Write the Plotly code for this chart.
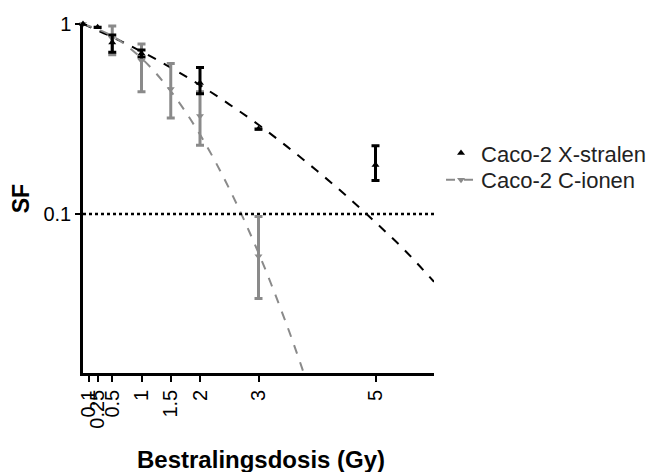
import plotly.graph_objects as go

# ---- data ----
dose_x = [0, 0.25, 0.5, 1, 2, 3, 5]
sf_x = [1.0, 0.96, 0.80, 0.70, 0.49, 0.28, 0.181]
sf_x_hi = [0, 0, 0.075, 0.03, 0.10, 0, 0.048]
sf_x_lo = [0, 0, 0.09, 0.03, 0.06, 0, 0.031]

dose_c = [0, 0.5, 1, 1.5, 2, 3]
sf_c = [1.0, 0.84, 0.64, 0.455, 0.328, 0.060]
sf_c_hi = [0, 0.135, 0.144, 0.165, 0.112, 0.037]
sf_c_lo = [0, 0.15, 0.20, 0.135, 0.098, 0.024]

# fitted curves
fit_x_dose = [0, 0.5, 1, 1.5, 2, 2.5, 3, 3.5, 4, 4.5, 5, 5.5, 6]
fit_x_sf = [1.0, 0.854, 0.716, 0.590, 0.477, 0.378, 0.295, 0.225, 0.169, 0.125, 0.0905, 0.0645, 0.044]
fit_c_dose = [0, 0.5, 1, 1.5, 2, 2.5, 3, 3.5, 3.8]
fit_c_sf = [1.0, 0.865, 0.660, 0.443, 0.262, 0.136, 0.0625, 0.0253, 0.0138]

threshold = 0.1
x_ticks = [0.1, 0.25, 0.5, 1, 1.5, 2, 3, 5]
x_tick_text = ["0.1", "0.25", "0.5", "1", "1.5", "2", "3", "5"]
y_ticks = [0.1, 1]
y_tick_text = ["0.1", "1"]
names = ["Caco-2 X-stralen", "Caco-2 C-ionen"]

GRAY = "#8a8a8a"
FONT = "Liberation Sans, Arial, sans-serif"

fig = go.Figure()

# fitted curves
fig.add_trace(go.Scatter(x=fit_x_dose, y=fit_x_sf, mode="lines", line_shape="spline",
                         line=dict(color="black", width=2, dash="dash"), showlegend=False))
fig.add_trace(go.Scatter(x=fit_c_dose, y=fit_c_sf, mode="lines", line_shape="spline",
                         line=dict(color=GRAY, width=2, dash="dash"), showlegend=False))

# threshold line
fig.add_trace(go.Scatter(x=[0, 6], y=[threshold, threshold], mode="lines",
                         line=dict(color="black", width=2.5, dash="dot"), showlegend=False))

# data points with error bars
fig.add_trace(go.Scatter(x=dose_c, y=sf_c, mode="markers",
                         marker=dict(symbol="triangle-down", size=7, color=GRAY),
                         error_y=dict(type="data", array=sf_c_hi, arrayminus=sf_c_lo,
                                      color=GRAY, thickness=3, width=4),
                         showlegend=False, cliponaxis=False))
fig.add_trace(go.Scatter(x=dose_x, y=sf_x, mode="markers",
                         marker=dict(symbol="triangle-up", size=7, color="black"),
                         error_y=dict(type="data", array=sf_x_hi, arrayminus=sf_x_lo,
                                      color="black", thickness=3, width=4),
                         showlegend=False, cliponaxis=False))

# legend entries (one legend per row for exact placement)
fig.add_trace(go.Scatter(x=[None], y=[None], mode="markers", name=names[0], legend="legend",
                         marker=dict(symbol="triangle-up", size=7, color="black")))
fig.add_trace(go.Scatter(x=[None], y=[None], mode="lines+markers", name=names[1], legend="legend2",
                         marker=dict(symbol="triangle-down", size=7, color=GRAY),
                         line=dict(color=GRAY, width=2, dash="dash")))

leg_common = dict(xanchor="left", yanchor="middle", itemwidth=30, tracegroupgap=0,
                  bgcolor="rgba(0,0,0,0)", font=dict(size=22, family=FONT, color="#222"))

fig.update_layout(
    width=651, height=472,
    margin=dict(l=83, r=217, t=24, b=99, autoexpand=False),
    paper_bgcolor="white", plot_bgcolor="white",
    font=dict(family=FONT, size=20, color="black"),
    showlegend=True,
    legend=dict(x=1.02, y=0.630, **leg_common),
    legend2=dict(x=1.02, y=0.553, **leg_common),
    xaxis=dict(range=[0, 6], showgrid=False, zeroline=False,
               showline=True, linecolor="black", linewidth=2.5,
               tickvals=x_ticks, ticktext=x_tick_text, tickangle=-90,
               ticks="outside", ticklen=6, tickwidth=2, tickcolor="black",
               tickfont=dict(size=20, family=FONT)),
    yaxis=dict(type="log", range=[-1.836, 0], showgrid=False, zeroline=False,
               showline=True, linecolor="black", linewidth=2.5,
               tickvals=y_ticks, ticktext=y_tick_text,
               ticks="outside", ticklen=5, tickwidth=2, tickcolor="black",
               tickfont=dict(size=20, family=FONT)),
    annotations=[
        dict(text="<b>Bestralingsdosis (Gy)</b>", xref="paper", yref="paper",
             x=0.508, y=-0.248, xanchor="center", yanchor="middle", showarrow=False,
             font=dict(size=24, family=FONT, color="black")),
        dict(text="<b>SF</b>", xref="paper", yref="paper", textangle=-90,
             x=-0.177, y=0.5, xanchor="center", yanchor="middle", showarrow=False,
             font=dict(size=23, family=FONT, color="black")),
    ],
)

fig.write_html("out.html", config={"displayModeBar": False},
               post_script="document.body.style.margin='0px';")
